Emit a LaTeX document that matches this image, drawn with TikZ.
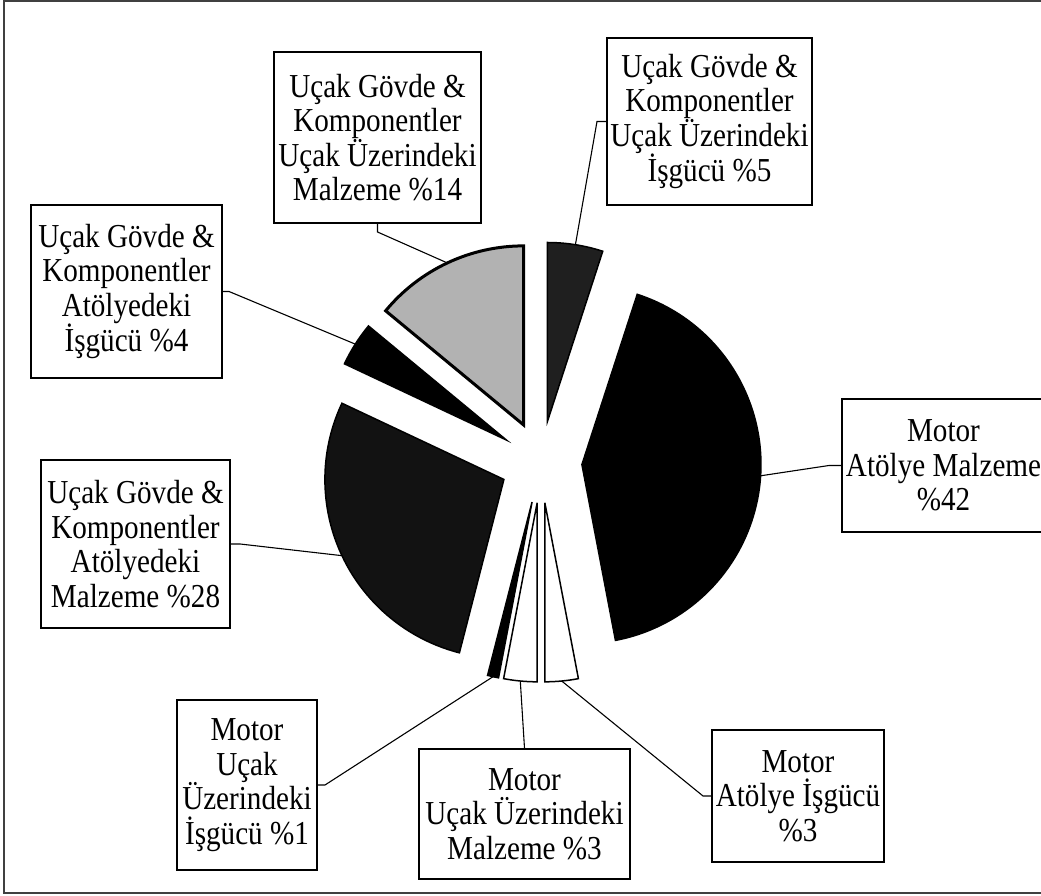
\documentclass[tikz,border=0pt]{standalone}
\usepackage{fontspec}
\setmainfont[FakeStretch=0.87]{Liberation Serif}
\newcommand\pieslice[4]{%
  \pgfmathsetmacro\pmid{(#2+#3)/2}%
  \path[sl,#1] ([shift={(\pmid:41)}]541,434) -- ++(#2:179) arc[start angle=#2, end angle=#3, radius=179] -- cycle;%
  \path (541,434) ++(\pmid:220) coordinate (#4);%
}
\begin{document}
\begin{tikzpicture}[x=1pt,y=1pt,
  lbl/.style={draw=black, line width=1.4pt, fill=white, align=center, inner sep=0pt, font=\fontsize{33.5}{34.5}\selectfont},
  lead/.style={draw=black, line width=1.1pt},
  sl/.style={draw=black, line width=1.5pt, line join=miter}]
\useasboundingbox (0,0) rectangle (1041,896);
\draw[line width=1.5pt, black!75] (4,3) rectangle (1060,895);

% pie slices (clockwise from 12 o'clock)
\pieslice{fill=black!88}{90}{72}{s5}
\pieslice{fill=black}{72}{-79.2}{s42}
\pieslice{fill=white}{-79.2}{-90}{s3i}
\pieslice{fill=white}{-90}{-100.8}{s3m}
\pieslice{fill=black}{-100.8}{-104.4}{s1}
\pieslice{fill=black!93}{-104.4}{-205.2}{s28}
\pieslice{fill=black}{-205.2}{-219.6}{s4}
\pieslice{fill=black!30, line width=3pt}{-219.6}{-270}{s14}

% labels
\node[lbl, minimum width=207pt, minimum height=171pt] (b14) at (377.5,758.5) {Uçak Gövde \&\\Komponentler\\Uçak Üzerindeki\\Malzeme \%14};
\node[lbl, minimum width=205pt, minimum height=167pt] (b5) at (709.5,774.5) {Uçak Gövde \&\\Komponentler\\Uçak Üzerindeki\\İşgücü \%5};
\node[lbl, minimum width=191pt, minimum height=173pt] (b4) at (126.5,604.5) {Uçak Gövde \&\\Komponentler\\Atölyedeki\\İşgücü \%4};
\node[lbl, minimum width=203pt, minimum height=133pt] (b42) at (943.5,430.5) {Motor\\Atölye Malzeme\\\%42};
\node[lbl, minimum width=189pt, minimum height=168pt] (b28) at (135.5,352) {Uçak Gövde \&\\Komponentler\\Atölyedeki\\Malzeme \%28};
\node[lbl, minimum width=140pt, minimum height=170pt] (b1) at (247,111) {Motor\\Uçak\\Üzerindeki\\İşgücü \%1};
\node[lbl, minimum width=211pt, minimum height=130pt] (b3m) at (524.5,82) {Motor\\Uçak Üzerindeki\\Malzeme \%3};
\node[lbl, minimum width=172pt, minimum height=132pt] (b3i) at (798,100) {Motor\\Atölye İşgücü\\\%3};

% leader lines
\coordinate (k14) at (377.5,664);
\coordinate (k5) at (597,774.5);
\coordinate (k4) at (229,604.5);
\coordinate (k28) at (240,352);
\coordinate (k42) at (829,430.5);
\coordinate (k1) at (325,111);
\coordinate (k3i) at (703,100);
\draw[lead] (s14) -- (k14) -- (b14.south);
\draw[lead] (s5) -- (k5) -- (b5.west);
\draw[lead] (s4) -- (k4) -- (b4.east);
\draw[lead] (s28) -- (k28) -- (b28.east);
\draw[lead] (s42) -- (k42) -- (b42.west);
\draw[lead] (s1) -- (k1) -- (b1.east);
\draw[lead] (s3m) -- (b3m.north);
\draw[lead] (s3i) -- (k3i) -- (b3i.west);
\end{tikzpicture}
\end{document}
